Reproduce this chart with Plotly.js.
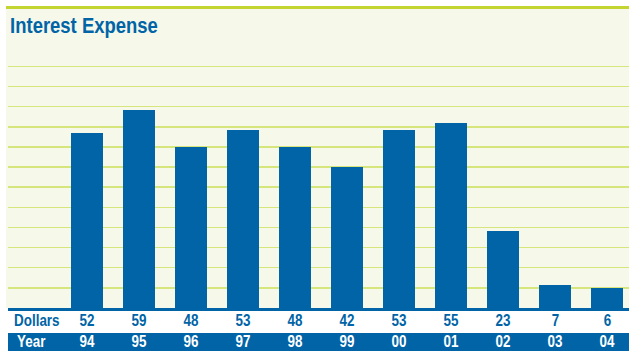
<!DOCTYPE html>
<html><head><meta charset="utf-8">
<script src="https://cdn.plot.ly/plotly-3.0.1.min.js"></script>
<style>html,body{margin:0;padding:0;background:#fff;}#chart{width:629px;height:351px;}</style>
</head><body><div id="chart"></div>
<script>
const years = ["94","95","96","97","98","99","00","01","02","03","04"];
const dollars = [52, 59, 48, 53, 48, 42, 53, 55, 23, 7, 6];
const gridVals = [6,12,18,24,30,36,42,48,54,60,66,72];
const titleText = "Interest Expense";
const rowLabels = ["Dollars", "Year"];

const W = 629, H = 351;
const L = 8, R = 0, T = 60, B = 43;
const plotH = H - T - B; // 248
const plotW = W - L - R;
const py = p => (H - B - p) / plotH;   // pixel y -> paper y
const px = p => (p - L) / plotW;       // pixel x -> paper x

const blue = "#0064A6";
const cream = "#F6F8EA";
const font = "Liberation Sans, Arial, sans-serif";

const idx = years.map((_, i) => i);

const annotations = [];
annotations.push({xref:"paper", yref:"paper", x:px(8), y:py(25), xanchor:"left", yanchor:"middle",
  text:"<b>"+titleText+"</b>", showarrow:false, font:{family:font, size:22, color:blue}});
annotations.push({xref:"paper", yref:"paper", x:px(12), y:py(320), xanchor:"left", yanchor:"middle",
  text:"<b>"+rowLabels[0]+"</b>", showarrow:false, font:{family:font, size:16, color:blue}});
annotations.push({xref:"paper", yref:"paper", x:px(15), y:py(341), xanchor:"left", yanchor:"middle",
  text:"<b>"+rowLabels[1]+"</b>", showarrow:false, font:{family:font, size:16, color:"#fff"}});
idx.forEach(i => {
  annotations.push({xref:"x", yref:"paper", x:i, y:py(320), xanchor:"center", yanchor:"middle",
    text:"<b>"+dollars[i]+"</b>", showarrow:false, font:{family:font, size:16, color:blue}});
  annotations.push({xref:"x", yref:"paper", x:i, y:py(341), xanchor:"center", yanchor:"middle",
    text:"<b>"+years[i]+"</b>", showarrow:false, font:{family:font, size:16, color:"#fff"}});
});

const shapes = [
  {type:"rect", xref:"paper", yref:"paper", x0:px(6), x1:1, y0:1, y1:py(9), fillcolor:cream, line:{width:0}, layer:"below"},
  {type:"rect", xref:"paper", yref:"paper", x0:px(6), x1:0, y0:0, y1:1, fillcolor:cream, line:{width:0}, layer:"below"},
  {type:"rect", xref:"paper", yref:"paper", x0:px(6), x1:1, y0:py(9), y1:py(6), fillcolor:"#C4D431", line:{width:0}, layer:"below"},
  {type:"rect", xref:"paper", yref:"paper", x0:0, x1:1, y0:py(351), y1:py(333), fillcolor:blue, line:{width:0}, layer:"below"}
];

const data = [{
  type:"bar", x:idx, y:dollars, width:0.615,
  marker:{color:blue, line:{width:0}}, hoverinfo:"none"
}];

const layout = {
  width:W, height:H, margin:{l:L, r:R, t:T, b:B, pad:0},
  paper_bgcolor:"#fff", plot_bgcolor:cream, showlegend:false,
  xaxis:{range:[-1.52, 10.42], showgrid:false, zeroline:false, showticklabels:false, ticks:"",
    showline:true, linecolor:blue, linewidth:2.5, fixedrange:true},
  yaxis:{range:[0, plotH/3.356], tickmode:"array", tickvals:gridVals, showticklabels:false, ticks:"",
    showgrid:true, gridcolor:"#D6E57C", gridwidth:1.5, zeroline:false, showline:false, fixedrange:true},
  annotations, shapes, bargap:0
};
Plotly.newPlot("chart", data, layout, {displayModeBar:false, staticPlot:true}).then(() => {
  // condensed look: narrow the glyphs horizontally, keeping them as real text
  document.querySelectorAll("#chart g.annotation").forEach(g => {
    const i = +g.getAttribute("data-index");
    const t = g.querySelector(".annotation-text");
    if (!t) return;
    const leftAnchored = annotations[i] && annotations[i].xanchor === "left";
    t.style.transformBox = "fill-box";
    t.style.transformOrigin = leftAnchored ? "left center" : "center center";
    t.style.transform = "scaleX(0.84)";
  });
});
</script></body></html>
